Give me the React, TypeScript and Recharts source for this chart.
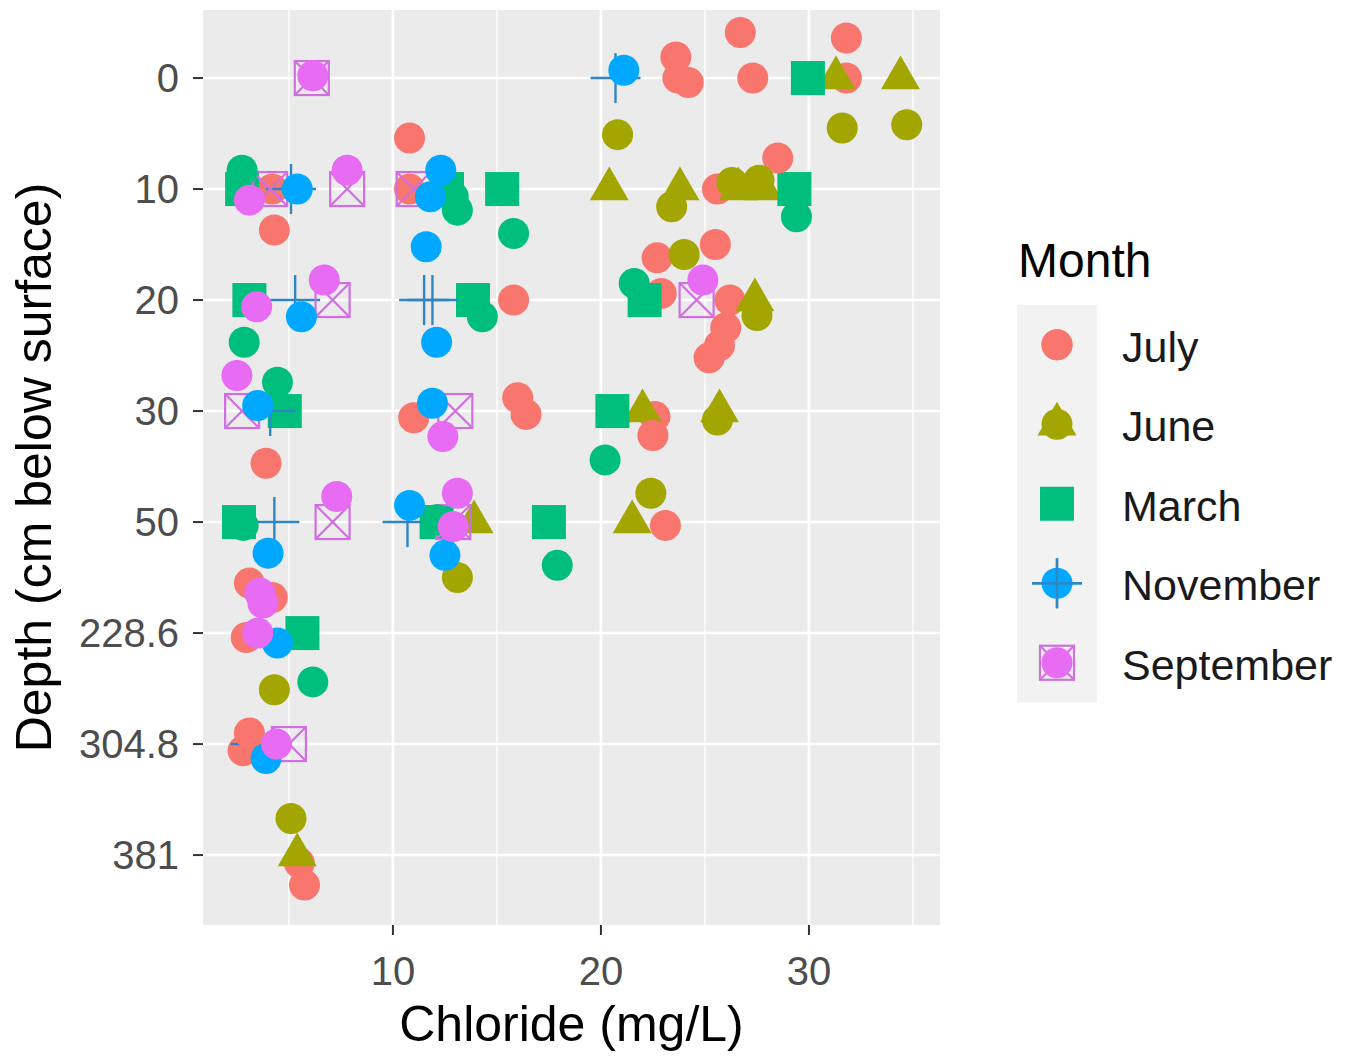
import React from "react";
import { ScatterChart, Scatter, XAxis, YAxis, CartesianGrid } from "recharts";

const months = ["July", "June", "March", "November", "September"];
const colors = ["#F8766D", "#A3A500", "#00BF7D", "#00A9FF", "#E76BF3"];
const depthLabels = ["0", "10", "20", "30", "50", "228.6", "304.8", "381"];
const depthRows = [0, 1, 2, 3, 4, 5, 6, 7];
const xTicks = [10, 20, 30];
const xMinor = [5, 15, 25, 35];

// measured points: [chloride, depth row]
const julyRows = [
  [23.7, 0], [27.3, 0], [31.8, 0], [10.8, 1], [4.2, 1], [25.6, 1], [15.8, 2], [22.9, 1.94],
  [26.2, 2], [11.0, 3.06], [16.4, 3.03], [22.6, 3.05], [23.1, 4.03], [2.95, 5.04], [2.8, 6.06], [5.5, 7.07],
];
const juneRows = [
  [31.3, 0], [34.4, 0], [20.4, 1], [23.8, 1], [26.6, 1], [27.8, 1], [27.4, 2], [22.0, 3],
  [25.7, 3], [21.5, 4], [13.9, 4], [5.4, 7],
];
const marchRows = [
  [29.95, 0], [2.75, 1], [12.6, 1], [15.25, 1], [29.3, 1], [3.1, 2], [13.85, 2], [22.1, 2],
  [4.8, 3], [20.55, 3], [2.6, 4], [12.1, 4], [17.5, 4], [5.65, 5],
];
const novemberRows = [
  [20.7, 0], [5.1, 1], [5.3, 2], [11.5, 2], [11.9, 2], [4.1, 3], [4.3, 4], [10.7, 4], [3.4, 6],
];
const septemberRows = [
  [6.1, 0], [4.1, 1], [7.8, 1], [11.0, 1], [7.1, 2], [24.6, 2], [2.75, 3], [13.0, 3],
  [7.1, 4], [12.9, 4], [5.0, 6],
];

// jittered copies: [chloride, jittered row]
const julyJitter = [
  [23.6, -0.19], [24.2, 0.04], [26.7, -0.41], [31.8, -0.36], [10.8, 0.54], [4.3, 1.37], [28.5, 0.72],
  [22.7, 1.62], [25.5, 1.5], [26.0, 2.25], [25.7, 2.41], [25.2, 2.52], [3.9, 3.47], [16.0, 2.88],
  [22.5, 3.22], [3.1, 4.55], [4.2, 4.68], [3.1, 5.9], [5.75, 7.27],
];
const juneJitter = [
  [31.6, 0.45], [34.7, 0.42], [20.8, 0.51], [23.4, 1.16], [26.3, 0.94], [27.6, 0.92], [24.0, 1.59],
  [27.5, 2.14], [25.6, 3.08], [22.4, 3.74], [13.1, 4.5], [4.3, 5.51], [5.1, 6.67],
];
const marchJitter = [
  [2.75, 0.83], [12.9, 1.07], [13.1, 1.19], [15.8, 1.4], [29.4, 1.25], [2.85, 2.38], [14.3, 2.15],
  [21.6, 1.85], [4.45, 2.74], [20.2, 3.44], [12.1, 3.98], [2.8, 4.03], [17.9, 4.39], [6.15, 5.44],
];
const novemberJitter = [
  [21.1, -0.07], [5.4, 1.0], [12.3, 0.83], [11.8, 1.07], [11.6, 1.52], [5.6, 2.15], [12.1, 2.38],
  [3.5, 2.95], [11.9, 2.93], [4.0, 4.28], [10.8, 3.85], [12.5, 4.3], [4.45, 5.09], [3.9, 6.13],
];
const septemberJitter = [
  [6.15, -0.02], [7.8, 0.83], [3.1, 1.1], [6.7, 1.82], [3.45, 2.06], [24.9, 1.82], [2.5, 2.68],
  [12.4, 3.23], [7.3, 3.77], [13.1, 3.74], [12.9, 4.04], [3.6, 4.64], [3.75, 4.73], [3.5, 5.0],
  [4.4, 6.0],
];

const rowSets = [julyRows, juneRows, marchRows, novemberRows, septemberRows];
const jitterSets = [julyJitter, juneJitter, marchJitter, novemberJitter, septemberJitter];

const toPts = (arr: number[][]) => arr.map(([x, y]) => ({ x, y }));

const FONT = "'Liberation Sans', Arial, sans-serif";
const PLUS_COLOR = "#2f86c4";

function Mark({ kind, cx, cy, color }: { kind: number; cx: number; cy: number; color: string }) {
  if (kind === 0) return <circle cx={cx} cy={cy} r={15.5} fill={color} />;
  if (kind === 1) {
    const s = 39;
    const h = s * 0.866;
    const pts = `${cx},${cy - (2 * h) / 3} ${cx - s / 2},${cy + h / 3} ${cx + s / 2},${cy + h / 3}`;
    return <polygon points={pts} fill={color} />;
  }
  if (kind === 2) return <rect x={cx - 17} y={cy - 17} width={34} height={34} fill={color} />;
  if (kind === 3)
    return (
      <g stroke={PLUS_COLOR} strokeWidth={2.4}>
        <line x1={cx - 25} y1={cy} x2={cx + 25} y2={cy} />
        <line x1={cx} y1={cy - 25} x2={cx} y2={cy + 25} />
      </g>
    );
  return (
    <g stroke="#cf6fe0" strokeWidth={2.2} fill="none">
      <rect x={cx - 17} y={cy - 17} width={34} height={34} />
      <line x1={cx - 17} y1={cy - 17} x2={cx + 17} y2={cy + 17} />
      <line x1={cx + 17} y1={cy - 17} x2={cx - 17} y2={cy + 17} />
    </g>
  );
}

function Legend() {
  const top = 305;
  const step = 79.5;
  return (
    <svg width={354} height={500} style={{ position: "absolute", left: 1000, top: 230 }}>
      <g transform="translate(-1000,-230)">
        <text x={1018} y={277} fontSize={48} fontFamily={FONT} fill="#000">
          Month
        </text>
        <rect x={1017} y={top} width={80} height={step * months.length} fill="#F2F2F2" />
        {months.map((m, i) => {
          const cy = top + step * i + step / 2;
          return (
            <g key={m}>
              <Mark kind={i} cx={1057} cy={cy} color={colors[i]} />
              <circle cx={1057} cy={cy} r={15.5} fill={colors[i]} />
              {i === 3 && <Mark kind={3} cx={1057} cy={cy} color={colors[i]} />}
              <text x={1122} y={cy + 17} fontSize={43} fontFamily={FONT} fill="#1a1a1a">
                {m}
              </text>
            </g>
          );
        })}
      </g>
    </svg>
  );
}

export default function App() {
  return (
    <div style={{ position: "relative", width: 1354, height: 1059, background: "#fff" }}>
      <style>{`body{margin:0}`}</style>
      <ScatterChart width={1354} height={1059} margin={{ top: 10, right: 414, bottom: 0, left: 0 }}>
        <CartesianGrid
          fill="#EBEBEB"
          fillOpacity={1}
          stroke="#ffffff"
          strokeWidth={1.3}
          horizontal={false}
          verticalValues={xMinor}
        />
        <CartesianGrid
          stroke="#ffffff"
          strokeWidth={2.6}
          verticalValues={xTicks}
          horizontalValues={depthRows}
        />
        <XAxis
          type="number"
          dataKey="x"
          domain={[0.87, 36.3]}
          ticks={xTicks}
          height={134}
          axisLine={false}
          tickSize={10}
          tickMargin={22}
          tickLine={{ stroke: "#333333", strokeWidth: 2 }}
          tick={{ fill: "#4D4D4D", fontSize: 40, fontFamily: FONT }}
          label={{
            content: ({ viewBox }: any) => (
              <text
                x={viewBox.x + viewBox.width / 2}
                y={1041}
                textAnchor="middle"
                fontSize={50}
                fontFamily={FONT}
                fill="#000"
              >
                Chloride (mg/L)
              </text>
            ),
          }}
        />
        <YAxis
          type="number"
          dataKey="y"
          domain={[-0.613, 7.63]}
          reversed
          ticks={depthRows}
          interval={0}
          width={203}
          axisLine={false}
          tickSize={10}
          tickMargin={14}
          tickLine={{ stroke: "#333333", strokeWidth: 2 }}
          tickFormatter={(v: number) => depthLabels[v] ?? ""}
          tick={{ fill: "#4D4D4D", fontSize: 40, fontFamily: FONT }}
          label={{
            content: ({ viewBox }: any) => (
              <text
                x={51}
                y={viewBox.y + viewBox.height / 2}
                transform={`rotate(-90, 51, ${viewBox.y + viewBox.height / 2})`}
                textAnchor="middle"
                fontSize={50}
                fontFamily={FONT}
                fill="#000"
              >
                Depth (cm below surface)
              </text>
            ),
          }}
        />
        {rowSets.map((set, i) => (
          <Scatter
            key={`rows-${months[i]}`}
            name={months[i]}
            data={toPts(set)}
            isAnimationActive={false}
            shape={(p: any) => <Mark kind={i} cx={p.cx} cy={p.cy} color={colors[i]} />}
          />
        ))}
        {jitterSets.map((set, i) => (
          <Scatter
            key={`jitter-${months[i]}`}
            name={`${months[i]} jitter`}
            data={toPts(set)}
            isAnimationActive={false}
            shape={(p: any) => <circle cx={p.cx} cy={p.cy} r={15.5} fill={colors[i]} />}
          />
        ))}
      </ScatterChart>
      <Legend />
    </div>
  );
}
